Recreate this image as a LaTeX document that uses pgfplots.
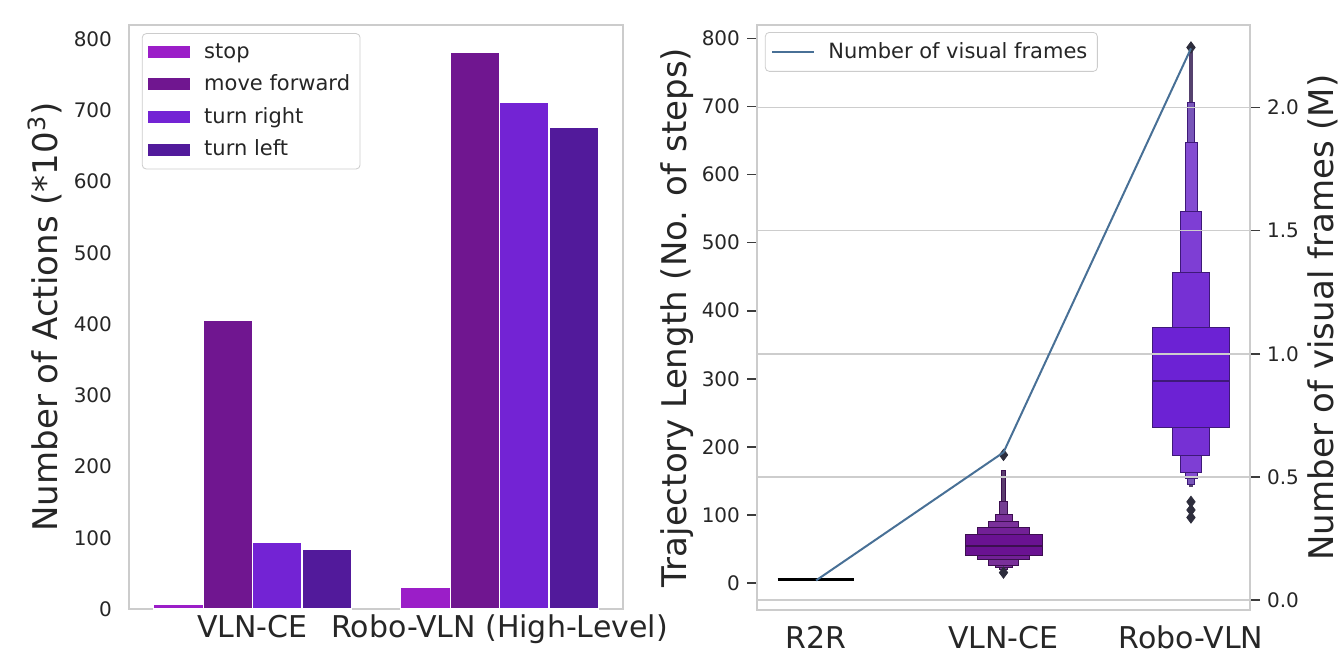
\documentclass[border=0pt]{standalone}
\usepackage{fontspec}
\setmainfont{DejaVu Sans}
\usepackage{pgfplots}
\pgfplotsset{compat=1.18}
\pgfplotsset{/pgf/number format/assume math mode=true}

\definecolor{cstop}{RGB}{155,30,200}
\definecolor{cfwd}{RGB}{112,22,144}
\definecolor{cright}{RGB}{115,35,212}
\definecolor{cleft}{RGB}{82,26,155}
\definecolor{framegray}{RGB}{204,204,204}
\definecolor{gridgray}{RGB}{205,205,205}
\definecolor{txt}{RGB}{38,38,38}
\definecolor{tickc}{RGB}{60,60,60}
\definecolor{linec}{RGB}{72,112,150}
\definecolor{vA}{RGB}{106,18,146}
\definecolor{vB}{RGB}{114,32,150}
\definecolor{vC}{RGB}{122,48,154}
\definecolor{vD}{RGB}{116,62,146}
\definecolor{vE}{RGB}{90,60,110}
\definecolor{vEdge}{RGB}{60,15,80}
\definecolor{rA}{RGB}{108,34,212}
\definecolor{rB}{RGB}{118,48,212}
\definecolor{rC}{RGB}{126,62,212}
\definecolor{rD}{RGB}{132,76,210}
\definecolor{rE}{RGB}{120,85,185}
\definecolor{rF}{RGB}{85,65,110}
\definecolor{rEdge}{RGB}{62,25,120}
\definecolor{outl}{RGB}{45,45,60}

\pgfplotsset{
  patch/.style={legend image code/.code={\fill[#1,draw=none,sharp corners] (0pt,-3pt) rectangle (21pt,3pt); \path[draw=none,fill=none] (0pt,0pt) -- (26pt,0pt);}},
  onebar/.style={ybar, bar width=0.2, draw=white, line width=0.6pt, forget plot},
}

\begin{document}
\begin{tikzpicture}
\useasboundingbox (0,0) rectangle (671pt,327.5pt);

% ---------------- left panel ----------------
\begin{axis}[
  at={(64.5pt,23pt)}, anchor=south west,
  scale only axis, width=247pt, height=292pt,
  xmin=-0.5, xmax=1.5, ymin=0, ymax=820,
  xtick={0,1}, xticklabels={VLN-CE, Robo-VLN (High-Level)},
  ytick={0,100,200,300,400,500,600,700,800},
  major tick length=0pt,
  axis line style={draw=framegray, line width=0.8pt},
  tick label style={color=txt},
  yticklabel style={font=\fontsize{10}{12}\selectfont, xshift=-5pt},
  xticklabel style={font=\fontsize{15}{18}\selectfont, yshift=0.5pt},
  ylabel={Number of Actions (*10\textsuperscript{3})},
  every axis y label/.style={at={(axis description cs:-0.17,0.5)}, anchor=center, rotate=90, font=\fontsize{17}{20}\selectfont, color=txt},
  legend style={at={(0.026,0.986)}, anchor=north west, draw=framegray, fill=white, rounded corners=2pt, font=\fontsize{10.5}{12.6}\selectfont, row sep=2.8pt, inner xsep=3pt, inner ysep=3pt, cells={anchor=west}, text=txt},
]
\addplot[onebar, fill=cstop, bar shift=-0.3] coordinates {(0,7) (1,31)};
\addplot[onebar, fill=cfwd, bar shift=-0.1] coordinates {(0,405) (1,781)};
\addplot[onebar, fill=cright, bar shift=0.1] coordinates {(0,94) (1,712)};
\addplot[onebar, fill=cleft, bar shift=0.3] coordinates {(0,84) (1,676)};
\addlegendimage{patch=cstop}
\addlegendentry{stop}
\addlegendimage{patch=cfwd}
\addlegendentry{move forward}
\addlegendimage{patch=cright}
\addlegendentry{turn right}
\addlegendimage{patch=cleft}
\addlegendentry{turn left}
\end{axis}

% ---------------- right panel (boxen) ----------------
\begin{axis}[
  at={(378.5pt,22.5pt)}, anchor=south west,
  scale only axis, width=246.5pt, height=292.5pt,
  xmin=-0.315, xmax=2.315, ymin=-40, ymax=820,
  xtick={0,1,2}, xticklabels={R2R, VLN-CE, Robo-VLN},
  ytick={0,100,200,300,400,500,600,700,800},
  axis line style={draw=framegray, line width=0.8pt},
  xtick style={draw=none},
  ytick style={draw=tickc, line width=0.8pt},
  tick align=outside, major tick length=5pt,
  ytick pos=left,
  tick label style={color=txt},
  yticklabel style={font=\fontsize{10}{12}\selectfont},
  xticklabel style={font=\fontsize{15}{18}\selectfont, yshift=0.5pt},
  ylabel={Trajectory Length (No. of steps)},
  every axis y label/.style={at={(axis description cs:-0.162,0.5)}, anchor=center, rotate=90, font=\fontsize{17}{20}\selectfont, color=txt},
]
% R2R
\addplot[black, line width=1.2pt] coordinates {(-0.205,5) (0.205,5)};
% VLN-CE boxen
\addplot[fill=vE, draw=vEdge, line width=0.4pt] coordinates {(0.99,18) (1.01,18) (1.01,165) (0.99,165)} -- cycle;
\addplot[fill=vD, draw=vEdge, line width=0.4pt] coordinates {(0.98,20) (1.02,20) (1.02,120) (0.98,120)} -- cycle;
\addplot[fill=vC, draw=vEdge, line width=0.4pt] coordinates {(0.955,23) (1.045,23) (1.045,100) (0.955,100)} -- cycle;
\addplot[fill=vC, draw=vEdge, line width=0.4pt] coordinates {(0.92,26) (1.08,26) (1.08,91) (0.92,91)} -- cycle;
\addplot[fill=vB, draw=vEdge, line width=0.4pt] coordinates {(0.86,34) (1.14,34) (1.14,82) (0.86,82)} -- cycle;
\addplot[fill=vA, draw=vEdge, line width=0.4pt] coordinates {(0.795,40) (1.205,40) (1.205,71) (0.795,71)} -- cycle;
\addplot[vEdge, line width=1.2pt] coordinates {(0.795,54) (1.205,54)};
\addplot[only marks, mark=diamond*, mark size=2.8pt, color=outl] coordinates {(1,188) (1,15)};
% Robo-VLN boxen
\addplot[fill=rF, draw=rF, line width=0.4pt] coordinates {(1.99,141) (2.01,141) (2.01,781) (1.99,781)} -- cycle;
\addplot[fill=rE, draw=rEdge, line width=0.4pt] coordinates {(1.982,145) (2.018,145) (2.018,706) (1.982,706)} -- cycle;
\addplot[fill=rD, draw=rEdge, line width=0.4pt] coordinates {(1.968,154) (2.032,154) (2.032,647) (1.968,647)} -- cycle;
\addplot[fill=rC, draw=rEdge, line width=0.4pt] coordinates {(1.944,163) (2.056,163) (2.056,546) (1.944,546)} -- cycle;
\addplot[fill=rB, draw=rEdge, line width=0.4pt] coordinates {(1.90,188) (2.10,188) (2.10,456) (1.90,456)} -- cycle;
\addplot[fill=rA, draw=rEdge, line width=0.4pt] coordinates {(1.795,228) (2.205,228) (2.205,375) (1.795,375)} -- cycle;
\addplot[rEdge, line width=1.2pt] coordinates {(1.795,297) (2.205,297)};
\addplot[only marks, mark=diamond*, mark size=2.8pt, color=outl] coordinates {(2,787) (2,119) (2,107) (2,96)};
\end{axis}

% ---------------- right panel (twin axis: visual frames) ----------------
\begin{axis}[
  at={(378.5pt,22.5pt)}, anchor=south west,
  scale only axis, width=246.5pt, height=292.5pt,
  xmin=-0.315, xmax=2.315, ymin=-0.04, ymax=2.335,
  axis x line=none, axis y line*=right,
  axis line style={draw=framegray, line width=0.8pt},
  ytick={0,0.5,1,1.5,2},
  ytick style={draw=tickc, line width=0.8pt},
  tick align=outside, major tick length=5pt,
  yticklabel style={font=\fontsize{10}{12}\selectfont, color=txt, /pgf/number format/fixed, /pgf/number format/fixed zerofill, /pgf/number format/precision=1},
  ymajorgrids, grid style={gridgray, line width=0.8pt},
  ylabel={Number of visual frames (M)},
  every axis y label/.style={at={(axis description cs:1.148,0.5)}, anchor=center, rotate=90, font=\fontsize{17}{20}\selectfont, color=txt},
  legend style={at={(0.016,0.988)}, anchor=north west, draw=framegray, fill=white, rounded corners=2pt, font=\fontsize{10.5}{12.6}\selectfont, inner xsep=3pt, inner ysep=3pt, cells={anchor=west}, text=txt},
  legend image code/.code={\draw[#1,sharp corners] (0pt,0pt) -- (21pt,0pt); \path[draw=none] (0pt,0pt) -- (26pt,0pt);},
]
\addplot[linec, line width=1pt] coordinates {(0,0.08) (1,0.60) (2,2.24)};
\addlegendentry{Number of visual frames}
\end{axis}
\end{tikzpicture}
\end{document}
